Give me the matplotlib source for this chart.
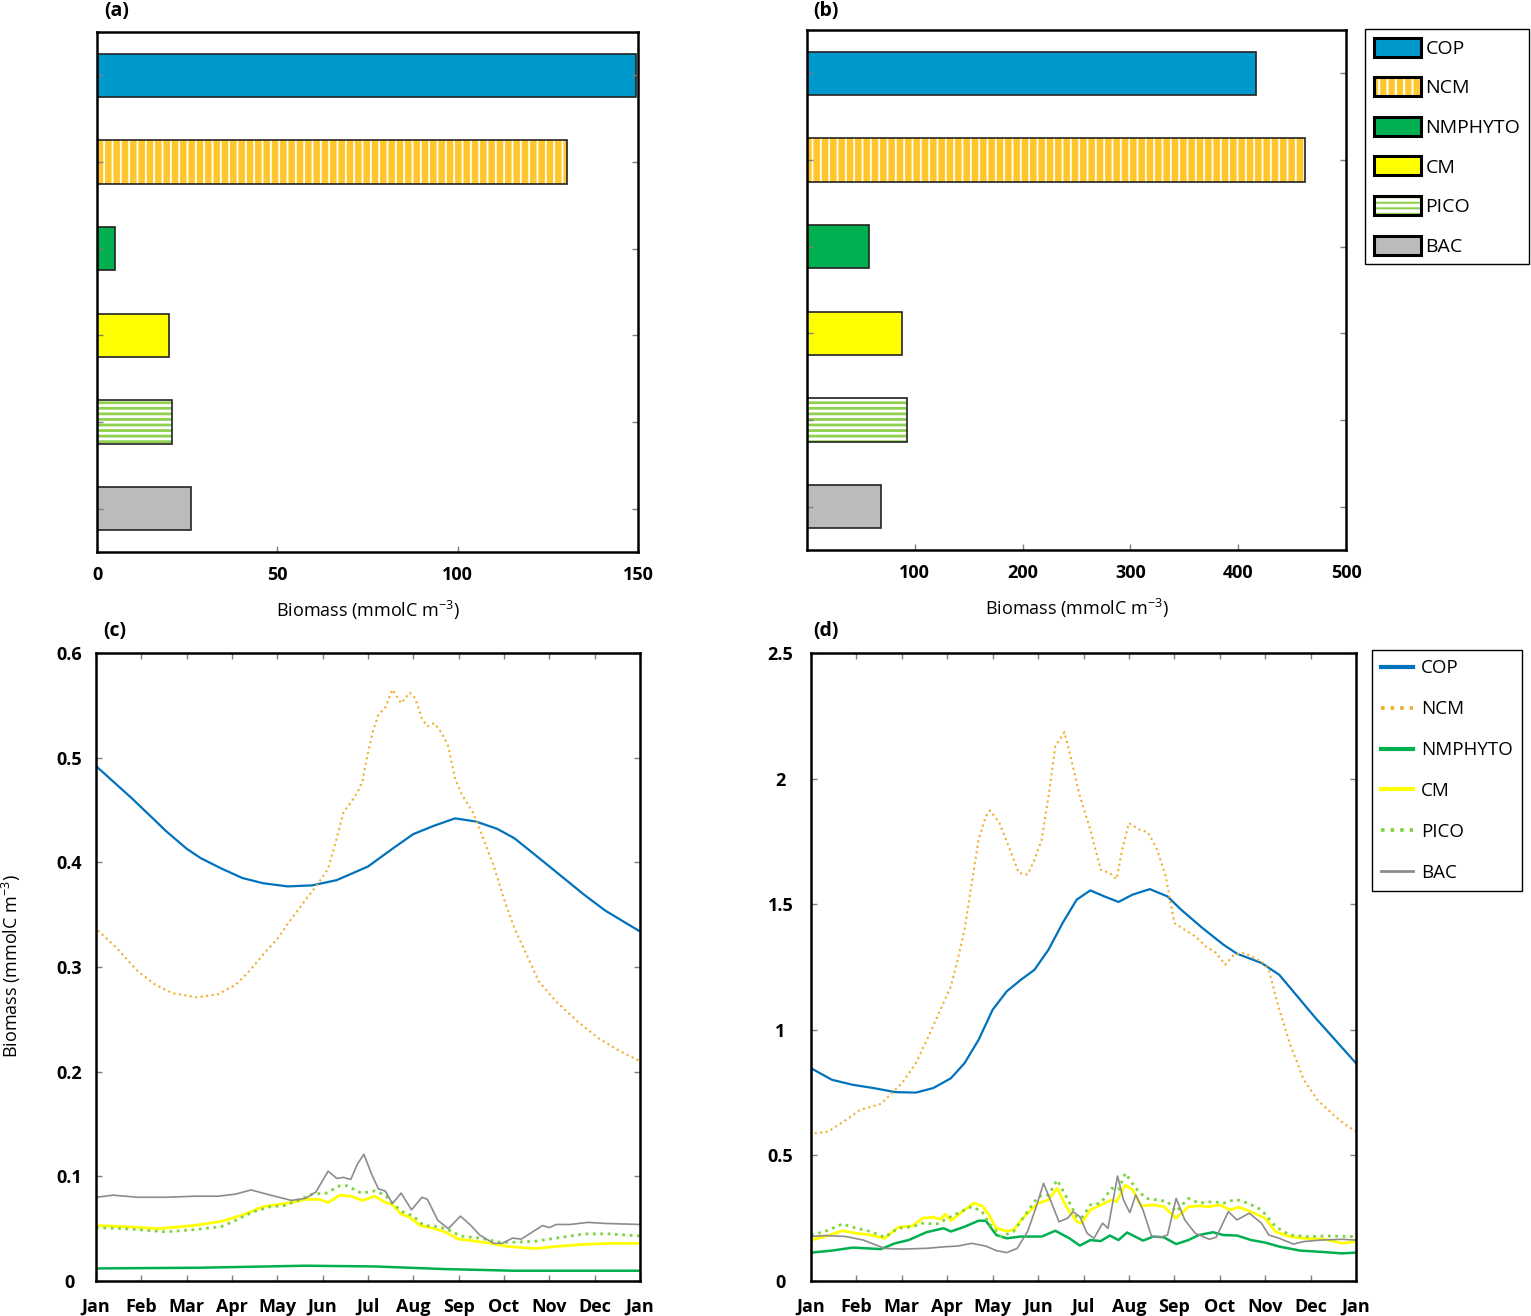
import matplotlib
matplotlib.use('Agg')
import matplotlib.pyplot as plt
from matplotlib.patches import Patch
from matplotlib.lines import Line2D
from matplotlib.ticker import FormatStrFormatter

plt.rcParams['font.family'] = ['Open Sans', 'DejaVu Sans']
plt.rcParams['hatch.linewidth'] = 1.5

groups = ['COP', 'NCM', 'NMPHYTO', 'CM', 'PICO', 'BAC']
biomass_a = [149.5, 130.3, 5.0, 20.0, 20.8, 26.1]
biomass_b = [416.5, 462.0, 57.5, 88.0, 93.0, 68.6]

month_labels = ['Jan', 'Feb', 'Mar', 'Apr', 'May', 'Jun', 'Jul', 'Aug', 'Sep', 'Oct', 'Nov', 'Dec', 'Jan']

# panel (c) time series (x in months since 1 Jan)
c_cop_t = [0, 0.77, 1.23, 1.54, 2.0, 2.31, 2.77, 3.23, 3.69, 4.23, 4.77, 5.31, 6.0, 6.54, 7.0, 7.46, 7.92,
           8.38, 8.85, 9.23, 9.69, 10.23, 10.77, 11.23, 11.69, 12.0]
c_cop = [0.492, 0.462, 0.443, 0.430, 0.413, 0.404, 0.394, 0.385, 0.380, 0.377, 0.378, 0.383, 0.396, 0.413,
         0.427, 0.435, 0.442, 0.439, 0.432, 0.423, 0.407, 0.388, 0.369, 0.354, 0.342, 0.334]
c_ncm_t = [0.04, 0.46, 0.92, 1.31, 1.69, 2.23, 2.69, 3.08, 3.38, 3.69, 4.0, 4.31, 4.62, 4.92, 5.12, 5.31, 5.46,
           5.62, 5.77, 5.88, 6.0, 6.12, 6.23, 6.38, 6.54, 6.73, 6.92, 7.04, 7.19, 7.31, 7.46, 7.62, 7.77, 7.92,
           8.08, 8.31, 8.54, 8.77, 9.0, 9.23, 9.54, 9.77, 10.15, 10.62, 11.08, 11.54, 12.0]
c_ncm = [0.335, 0.318, 0.296, 0.283, 0.275, 0.271, 0.274, 0.283, 0.296, 0.312, 0.327, 0.346, 0.364, 0.381,
         0.394, 0.423, 0.448, 0.457, 0.467, 0.478, 0.505, 0.527, 0.541, 0.548, 0.565, 0.552, 0.562, 0.557,
         0.537, 0.530, 0.533, 0.524, 0.511, 0.480, 0.464, 0.448, 0.423, 0.397, 0.365, 0.337, 0.308, 0.286,
         0.267, 0.248, 0.232, 0.220, 0.210]
c_nm_t = [0, 2.31, 4.62, 6.15, 7.69, 9.23, 10.77, 12.0]
c_nm = [0.0120, 0.0127, 0.0146, 0.0139, 0.0114, 0.0098, 0.0098, 0.0098]
c_cm_t = [0, 0.62, 1.38, 2.15, 2.77, 3.23, 3.69, 4.0, 4.31, 4.62, 4.92, 5.12, 5.38, 5.62, 5.88, 6.15, 6.38,
          6.54, 6.73, 6.92, 7.15, 7.38, 7.69, 8.0, 8.38, 8.69, 9.08, 9.69, 10.15, 10.77, 11.38, 12.0]
c_cm = [0.053, 0.052, 0.050, 0.053, 0.057, 0.063, 0.071, 0.073, 0.075, 0.078, 0.078, 0.075, 0.082, 0.081,
        0.077, 0.081, 0.075, 0.073, 0.064, 0.061, 0.053, 0.051, 0.047, 0.040, 0.038, 0.036, 0.033, 0.031,
        0.033, 0.035, 0.036, 0.036]
c_pico_t = [0, 0.62, 1.54, 2.15, 2.77, 3.08, 3.46, 3.85, 4.15, 4.46, 4.77, 5.08, 5.38, 5.54, 5.85, 6.15, 6.38,
            6.54, 6.77, 7.0, 7.23, 7.54, 7.77, 8.04, 8.46, 8.92, 9.23, 9.69, 10.15, 10.77, 11.31, 12.0]
c_pico = [0.051, 0.050, 0.047, 0.049, 0.052, 0.058, 0.066, 0.071, 0.072, 0.077, 0.083, 0.084, 0.091, 0.091,
          0.084, 0.086, 0.082, 0.074, 0.066, 0.062, 0.053, 0.052, 0.049, 0.043, 0.041, 0.037, 0.037, 0.038,
          0.041, 0.045, 0.045, 0.043]
c_bac_t = [0, 0.38, 0.92, 1.54, 2.15, 2.69, 3.08, 3.42, 3.85, 4.31, 4.62, 4.85, 5.12, 5.31, 5.46, 5.62, 5.77,
           5.91, 6.08, 6.23, 6.38, 6.54, 6.73, 6.96, 7.19, 7.31, 7.54, 7.77, 8.04, 8.27, 8.46, 8.77, 8.96, 9.19,
           9.38, 9.85, 10.0, 10.15, 10.46, 10.85, 11.23, 12.0]
c_bac = [0.080, 0.082, 0.080, 0.080, 0.081, 0.081, 0.083, 0.087, 0.082, 0.077, 0.079, 0.085, 0.105, 0.098,
         0.099, 0.097, 0.112, 0.121, 0.102, 0.088, 0.086, 0.074, 0.084, 0.068, 0.080, 0.078, 0.058, 0.050,
         0.062, 0.053, 0.044, 0.036, 0.036, 0.041, 0.040, 0.053, 0.051, 0.054, 0.054, 0.056, 0.055, 0.054]

# panel (d) time series
d_cop_t = [0, 0.46, 0.92, 1.38, 1.85, 2.31, 2.69, 3.08, 3.38, 3.69, 4.0, 4.31, 4.62, 4.92, 5.23, 5.54, 5.85,
           6.15, 6.46, 6.77, 7.08, 7.46, 7.85, 8.15, 8.62, 9.08, 9.38, 9.92, 10.31, 10.77, 11.08, 11.54, 12.0]
d_cop = [0.847, 0.801, 0.781, 0.768, 0.752, 0.750, 0.768, 0.807, 0.867, 0.960, 1.080, 1.153, 1.199, 1.239,
         1.319, 1.425, 1.518, 1.555, 1.531, 1.509, 1.538, 1.560, 1.531, 1.478, 1.405, 1.339, 1.303, 1.266,
         1.219, 1.120, 1.053, 0.960, 0.867]
d_ncm_t = [0.08, 0.38, 0.77, 1.08, 1.54, 2.0, 2.31, 2.62, 2.85, 3.08, 3.23, 3.38, 3.54, 3.69, 3.85, 3.94, 4.15,
           4.38, 4.58, 4.77, 4.92, 5.08, 5.23, 5.38, 5.58, 5.73, 5.92, 6.15, 6.38, 6.58, 6.73, 6.85, 7.0, 7.23,
           7.42, 7.62, 7.81, 8.0, 8.23, 8.46, 8.69, 8.92, 9.12, 9.31, 9.54, 9.92, 10.08, 10.31, 10.54, 10.85,
           11.15, 11.54, 11.77, 12.0]
d_ncm = [0.588, 0.595, 0.641, 0.681, 0.705, 0.787, 0.867, 0.987, 1.080, 1.173, 1.279, 1.398, 1.584, 1.757,
         1.850, 1.873, 1.823, 1.717, 1.624, 1.618, 1.677, 1.757, 1.930, 2.129, 2.185, 2.076, 1.930, 1.797,
         1.637, 1.624, 1.600, 1.717, 1.823, 1.797, 1.786, 1.717, 1.611, 1.425, 1.398, 1.372, 1.332, 1.306,
         1.259, 1.299, 1.306, 1.272, 1.239, 1.080, 0.947, 0.801, 0.721, 0.655, 0.622, 0.595]
d_nm_t = [0, 0.46, 0.92, 1.54, 1.85, 2.15, 2.54, 2.92, 3.08, 3.38, 3.69, 3.85, 4.08, 4.31, 4.62, 5.08, 5.38,
          5.69, 5.92, 6.15, 6.38, 6.58, 6.77, 6.96, 7.31, 7.54, 7.77, 8.04, 8.31, 8.54, 8.85, 9.08, 9.38, 9.69,
          10.0, 10.31, 10.77, 11.23, 11.69, 12.0]
d_nm = [0.113, 0.121, 0.133, 0.127, 0.150, 0.163, 0.194, 0.210, 0.197, 0.216, 0.240, 0.240, 0.183, 0.170,
        0.177, 0.177, 0.200, 0.170, 0.141, 0.163, 0.159, 0.181, 0.163, 0.193, 0.161, 0.177, 0.174, 0.147,
        0.163, 0.183, 0.194, 0.183, 0.181, 0.163, 0.153, 0.137, 0.121, 0.116, 0.110, 0.113]
d_cm_t = [0, 0.31, 0.69, 1.0, 1.31, 1.62, 1.92, 2.23, 2.46, 2.69, 2.85, 2.96, 3.08, 3.38, 3.58, 3.77, 3.92,
          4.08, 4.31, 4.46, 4.69, 5.0, 5.23, 5.42, 5.62, 5.85, 5.96, 6.15, 6.38, 6.62, 6.73, 6.92, 7.08, 7.27,
          7.54, 7.77, 8.04, 8.31, 8.54, 8.77, 9.0, 9.23, 9.42, 9.69, 10.0, 10.23, 10.54, 10.85, 11.31, 11.69,
          12.0]
d_cm = [0.163, 0.177, 0.200, 0.190, 0.183, 0.170, 0.214, 0.219, 0.250, 0.254, 0.246, 0.266, 0.240, 0.283,
        0.310, 0.299, 0.263, 0.210, 0.199, 0.203, 0.256, 0.310, 0.323, 0.369, 0.296, 0.236, 0.230, 0.283,
        0.303, 0.323, 0.316, 0.382, 0.363, 0.299, 0.303, 0.296, 0.250, 0.296, 0.299, 0.296, 0.303, 0.283,
        0.294, 0.276, 0.250, 0.196, 0.177, 0.170, 0.166, 0.150, 0.157]
d_pico_t = [0, 0.31, 0.69, 1.0, 1.31, 1.62, 1.92, 2.23, 2.46, 2.77, 3.08, 3.38, 3.54, 3.77, 3.92, 4.19, 4.46,
            4.69, 5.0, 5.23, 5.42, 5.62, 5.85, 5.96, 6.15, 6.38, 6.62, 6.77, 6.92, 7.15, 7.38, 7.62, 7.85, 8.04,
            8.31, 8.54, 8.85, 9.08, 9.35, 9.62, 9.92, 10.23, 10.54, 10.92, 11.38, 12.0]
d_pico = [0.183, 0.197, 0.227, 0.210, 0.197, 0.174, 0.210, 0.216, 0.230, 0.227, 0.256, 0.283, 0.296, 0.276,
          0.230, 0.177, 0.197, 0.256, 0.336, 0.343, 0.402, 0.336, 0.256, 0.250, 0.303, 0.310, 0.369, 0.363,
          0.429, 0.369, 0.329, 0.323, 0.316, 0.276, 0.329, 0.310, 0.316, 0.310, 0.325, 0.310, 0.283, 0.216,
          0.183, 0.177, 0.179, 0.177]
d_bac_t = [0, 0.31, 0.77, 1.15, 1.62, 2.0, 2.54, 3.0, 3.23, 3.54, 3.85, 4.08, 4.31, 4.54, 4.77, 4.96, 5.12,
           5.27, 5.46, 5.65, 5.77, 5.92, 6.08, 6.23, 6.42, 6.54, 6.75, 6.88, 7.02, 7.15, 7.31, 7.5, 7.69, 7.85,
           8.04, 8.23, 8.46, 8.77, 8.92, 9.19, 9.38, 9.65, 9.92, 10.08, 10.31, 10.62, 10.85, 11.23, 11.69, 12.0]
d_bac = [0.177, 0.181, 0.177, 0.163, 0.130, 0.127, 0.130, 0.137, 0.139, 0.150, 0.139, 0.121, 0.113, 0.130,
         0.197, 0.296, 0.389, 0.323, 0.236, 0.250, 0.276, 0.256, 0.190, 0.170, 0.230, 0.210, 0.418, 0.323,
         0.272, 0.343, 0.283, 0.177, 0.174, 0.183, 0.329, 0.243, 0.190, 0.166, 0.174, 0.276, 0.243, 0.270,
         0.230, 0.183, 0.170, 0.147, 0.157, 0.163, 0.166, 0.163]

# bar styles: (facecolor, hatch colour, hatch, hatch linewidth)
bar_styles = [('#0099CC', None, None, 0), ('#FFC72C', 'white', '||', 1.3), ('#00B050', None, None, 0),
              ('#FFFF00', None, None, 0), ('white', '#8FD14F', '---', 2.0), ('#BBBBBB', None, None, 0)]
line_colors = ['#0072BD', '#F2AE2B', '#00B050', '#FFFF00', '#7ED43C', '#8C8C8C']
line_styles = ['-', ':', '-', '-', ':', '-']
line_widths = [1.6, 1.5, 1.8, 2.0, 2.0, 1.2]

XLABEL = 'Biomass (mmolC m$^{\\mathregular{-3}}$)'
TICK_KW = dict(direction='in', color='#7F7F7F', length=4, width=1.0)


def hatched_patch(fc, hc, hatch, hlw, **kw):
    with plt.rc_context({'hatch.linewidth': hlw}):
        p = Patch(facecolor=fc, edgecolor=hc, hatch=hatch, linewidth=0, **kw)
    if hasattr(p, 'set_hatch_linewidth'):
        p.set_hatch_linewidth(hlw)
    return p


def style_spines(ax):
    for s in ax.spines.values():
        s.set_linewidth(1.8)
        s.set_color('black')


def plot_bars(ax, values, xticks, xlim):
    pos = list(range(len(values)))[::-1]
    for p, v, (fc, hc, hatch, hlw) in zip(pos, values, bar_styles):
        if hatch:
            with plt.rc_context({'hatch.linewidth': hlw}):
                bars = ax.barh(p, v, height=0.5, color=fc, edgecolor=hc, hatch=hatch, linewidth=0)
            for b in bars:
                if hasattr(b, 'set_hatch_linewidth'):
                    b.set_hatch_linewidth(hlw)
            ax.barh(p, v, height=0.5, fill=False, edgecolor='#222222', linewidth=1.2)
        else:
            ax.barh(p, v, height=0.5, color=fc, edgecolor='#222222', linewidth=1.2)
    ax.set_ylim(-0.5, 5.5)
    ax.set_xlim(*xlim)
    ax.set_yticks(pos)
    ax.set_yticklabels([])
    ax.set_xticks(xticks)
    ax.set_xticklabels([str(t) for t in xticks], fontweight='bold', fontsize=13)
    ax.tick_params(axis='y', left=True, right=True, **TICK_KW)
    ax.tick_params(axis='x', pad=10, **TICK_KW)
    ax.set_xlabel(XLABEL, fontsize=13, labelpad=11)
    style_spines(ax)


def plot_series(ax, series, ylim, yticks, ypad):
    for (t, v), c, ls, lw in zip(series, line_colors, line_styles, line_widths):
        ax.plot(t, v, color=c, linestyle=ls, linewidth=lw)
    ax.set_xlim(0, 12)
    ax.set_ylim(*ylim)
    ax.set_xticks(range(13))
    ax.set_xticklabels(month_labels, fontweight='bold', fontsize=13)
    ax.set_yticks(yticks)
    ax.yaxis.set_major_formatter(FormatStrFormatter('%g'))
    for lab in ax.get_yticklabels():
        lab.set_fontweight('bold')
        lab.set_fontsize(13)
        lab.set_horizontalalignment('center')
    ax.tick_params(axis='x', top=True, bottom=True, pad=12, **TICK_KW)
    ax.tick_params(axis='y', left=True, right=True, pad=ypad, **TICK_KW)
    style_spines(ax)


def bar_legend_handles():
    handles = []
    for fc, hc, hatch, hlw in bar_styles:
        if hatch:
            handles.append((hatched_patch(fc, hc, hatch, hlw),
                            Patch(fill=False, edgecolor='black', linewidth=2.2)))
        else:
            handles.append(Patch(facecolor=fc, edgecolor='black', linewidth=2.2))
    return handles


def main():
    fig = plt.figure(figsize=(15.31, 13.16), dpi=100)
    W, H = 1531.0, 1316.0

    ax_a = fig.add_axes([97 / W, 1 - 552 / H, 541 / W, 520 / H])
    ax_b = fig.add_axes([807 / W, 1 - 550 / H, 539 / W, 520 / H])
    ax_c = fig.add_axes([96 / W, 1 - 1281 / H, 544 / W, 628 / H])
    ax_d = fig.add_axes([811 / W, 1 - 1281 / H, 545 / W, 628 / H])

    plot_bars(ax_a, biomass_a, [0, 50, 100, 150], (0, 150))
    plot_bars(ax_b, biomass_b, [100, 200, 300, 400, 500], (0, 500))

    series_c = [(c_cop_t, c_cop), (c_ncm_t, c_ncm), (c_nm_t, c_nm), (c_cm_t, c_cm),
                (c_pico_t, c_pico), (c_bac_t, c_bac)]
    series_d = [(d_cop_t, d_cop), (d_ncm_t, d_ncm), (d_nm_t, d_nm), (d_cm_t, d_cm),
                (d_pico_t, d_pico), (d_bac_t, d_bac)]
    plot_series(ax_c, series_c, (0, 0.6), [0, 0.1, 0.2, 0.3, 0.4, 0.5, 0.6], 19)
    plot_series(ax_d, series_d, (0, 2.5), [0, 0.5, 1, 1.5, 2, 2.5], 22)

    fig.text(11 / W, 1 - 966 / H, XLABEL, rotation=90, ha='center', va='center', fontsize=13)

    # legends
    leg_b = fig.legend(bar_legend_handles(), groups, loc='upper left',
                       bbox_to_anchor=(1365 / W, 1 - 29 / H), borderaxespad=0, fontsize=14,
                       handlelength=2.45, handleheight=1.13, labelspacing=1.0,
                       handletextpad=0.2, borderpad=0.45, fancybox=False, framealpha=1)
    leg_b.get_frame().set_edgecolor('black')
    leg_b.get_frame().set_linewidth(1.0)

    line_handles = [Line2D([], [], color=c, linestyle=ls, linewidth=3.0 if ls == '-' else 2.6)
                    for c, ls in zip(line_colors, line_styles)]
    line_handles[-1].set_linewidth(2.0)
    leg_d = fig.legend(line_handles, groups, loc='upper left',
                       bbox_to_anchor=(1372 / W, 1 - 650 / H), borderaxespad=0, fontsize=13.5,
                       handlelength=1.7, labelspacing=1.22, handletextpad=0.42,
                       borderpad=0.5, fancybox=False, framealpha=1)
    leg_d.get_frame().set_edgecolor('black')
    leg_d.get_frame().set_linewidth(1.0)

    for lbl, x, y in [('(a)', 117, 11), ('(b)', 826, 11), ('(c)', 115, 631), ('(d)', 826, 631)]:
        fig.text(x / W, 1 - y / H, lbl, ha='center', va='center', fontweight='bold', fontsize=14)

    fig.savefig('out.png', dpi=100)


if __name__ == '__main__':
    main()
